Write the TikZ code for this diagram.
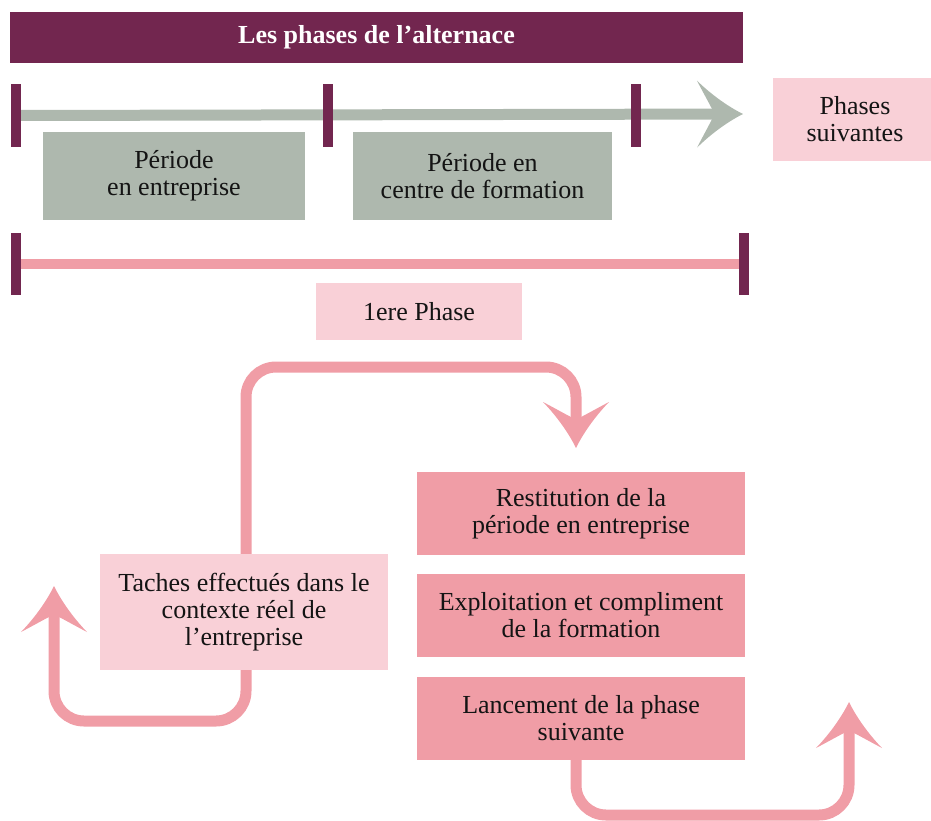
\documentclass[tikz,border=0pt]{standalone}
\usepackage{fontspec}
\setmainfont{Liberation Serif}
\usetikzlibrary{arrows.meta}

% Swept arrow head with concave sides and a notched back
\pgfdeclarearrow{
  name = Swept,
  parameters = {\the\pgfarrowlength,\the\pgfarrowwidth},
  setup code = {
    \pgfarrowssettipend{\pgfarrowlength}
    \pgfarrowssetlineend{.5\pgfarrowlength}
    \pgfarrowssetvisualbackend{0pt}
    \pgfarrowssavethe\pgfarrowlength
    \pgfarrowssavethe\pgfarrowwidth
  },
  drawing code = {
    \pgfpathmoveto{\pgfqpoint{\pgfarrowlength}{0pt}}
    \pgfpathcurveto{\pgfqpoint{.62\pgfarrowlength}{.13\pgfarrowwidth}}
                   {\pgfqpoint{.25\pgfarrowlength}{.33\pgfarrowwidth}}
                   {\pgfqpoint{0pt}{.5\pgfarrowwidth}}
    \pgfpathcurveto{\pgfqpoint{.15\pgfarrowlength}{.3\pgfarrowwidth}}
                   {\pgfqpoint{.3\pgfarrowlength}{.12\pgfarrowwidth}}
                   {\pgfqpoint{.38\pgfarrowlength}{0pt}}
    \pgfpathcurveto{\pgfqpoint{.3\pgfarrowlength}{-.12\pgfarrowwidth}}
                   {\pgfqpoint{.15\pgfarrowlength}{-.3\pgfarrowwidth}}
                   {\pgfqpoint{0pt}{-.5\pgfarrowwidth}}
    \pgfpathcurveto{\pgfqpoint{.25\pgfarrowlength}{-.33\pgfarrowwidth}}
                   {\pgfqpoint{.62\pgfarrowlength}{-.13\pgfarrowwidth}}
                   {\pgfqpoint{\pgfarrowlength}{0pt}}
    \pgfpathclose
    \pgfusepathqfill
  },
  defaults = {length=46pt, width=66pt}
}

\definecolor{plum}{HTML}{72264F}
\definecolor{sage}{HTML}{AEB8AE}
\definecolor{rose}{HTML}{F09DA6}
\definecolor{blush}{HTML}{F9D0D7}
\definecolor{ink}{HTML}{141414}

\pgfdeclarelayer{bg}
\pgfsetlayers{bg,main}

\begin{document}
\begin{tikzpicture}[x=1pt, y=-1pt,
  txt/.style={rectangle, inner sep=0pt, align=center, text=ink,
    font=\fontsize{26}{27}\selectfont},
  sagebox/.style={txt, fill=sage},
  blushbox/.style={txt, fill=blush},
  rosebox/.style={txt, fill=rose, minimum width=328pt, minimum height=83pt},
  tickmark/.style={rectangle, fill=plum, inner sep=0pt, minimum width=10pt},
  flow/.style={draw=rose, line width=11pt, rounded corners=30pt},
  headed/.style={-{Swept[length=46pt, width=66pt]}},
]
\useasboundingbox (0,0) rectangle (931,820);

% title bar
\node[rectangle, fill=plum, inner sep=0pt, minimum width=733pt, minimum height=51pt,
      text=white, font=\bfseries\fontsize{26}{28}\selectfont]
  (title) at (376.5,37.5) {Les phases de l’alternace};

% upper timeline
\node[tickmark, minimum height=63pt] (t1) at (16,115.5) {};
\node[tickmark, minimum height=63pt] (t2) at (327.5,115.5) {};
\node[tickmark, minimum height=63pt] (t3) at (635.5,115.5) {};
\coordinate (tend) at (743,114);

\node[sagebox, minimum width=262pt, minimum height=88pt] (per1) at (174,176)
  {Période\\en entreprise};
\node[sagebox, minimum width=259pt, minimum height=88pt] (per2) at (482.5,176)
  {Période en\\centre de formation};
\node[blushbox, minimum width=164pt, minimum height=83pt] (next) at (855,119.5)
  {Phases\\suivantes};

% phase span
\node[tickmark, minimum height=62pt] (p1) at (16,264) {};
\node[tickmark, minimum height=62pt] (p2) at (744,264) {};
\node[blushbox, minimum width=206pt, minimum height=57pt] (phase) at (419,311.5)
  {1ere Phase};

% cycle boxes
\node[blushbox, minimum width=288pt, minimum height=116pt] (task) at (244,612)
  {Taches effectués dans le\\contexte réel de\\l’entreprise};
\node[rosebox] (r1) at (581,513.5) {Restitution de la\\période en entreprise};
\node[rosebox] (r2) at (581,615.5) {Exploitation et compliment\\de la formation};
\node[rosebox] (r3) at (581,718) {Lancement de la phase\\suivante};

% loop routing points
\coordinate (aL) at (54,586);
\coordinate (c1) at (54,721);
\coordinate (c2) at (246,721);
\coordinate (c3) at (246,367);
\coordinate (c4) at (576,367);
\coordinate (aR) at (576,448);
\coordinate (d1) at (576,815);
\coordinate (d2) at (849,815);
\coordinate (aB) at (849,702);

\begin{pgfonlayer}{bg}
  \draw[sage, line width=11pt, -{Swept[length=46pt, width=67pt]}] (t1.center) -- (tend);
  \draw[rose, line width=10pt] (p1.center) -- (p2.center);
  \draw[flow, {Swept[length=46pt, width=66pt]}-{Swept[length=46pt, width=66pt]}]
    (aL) -- (c1) -- (c2) -- (c3) -- (c4) -- (aR);
  \draw[flow, headed] (r3.south -| d1) -- (d1) -- (d2) -- (aB);
\end{pgfonlayer}
\end{tikzpicture}
\end{document}
